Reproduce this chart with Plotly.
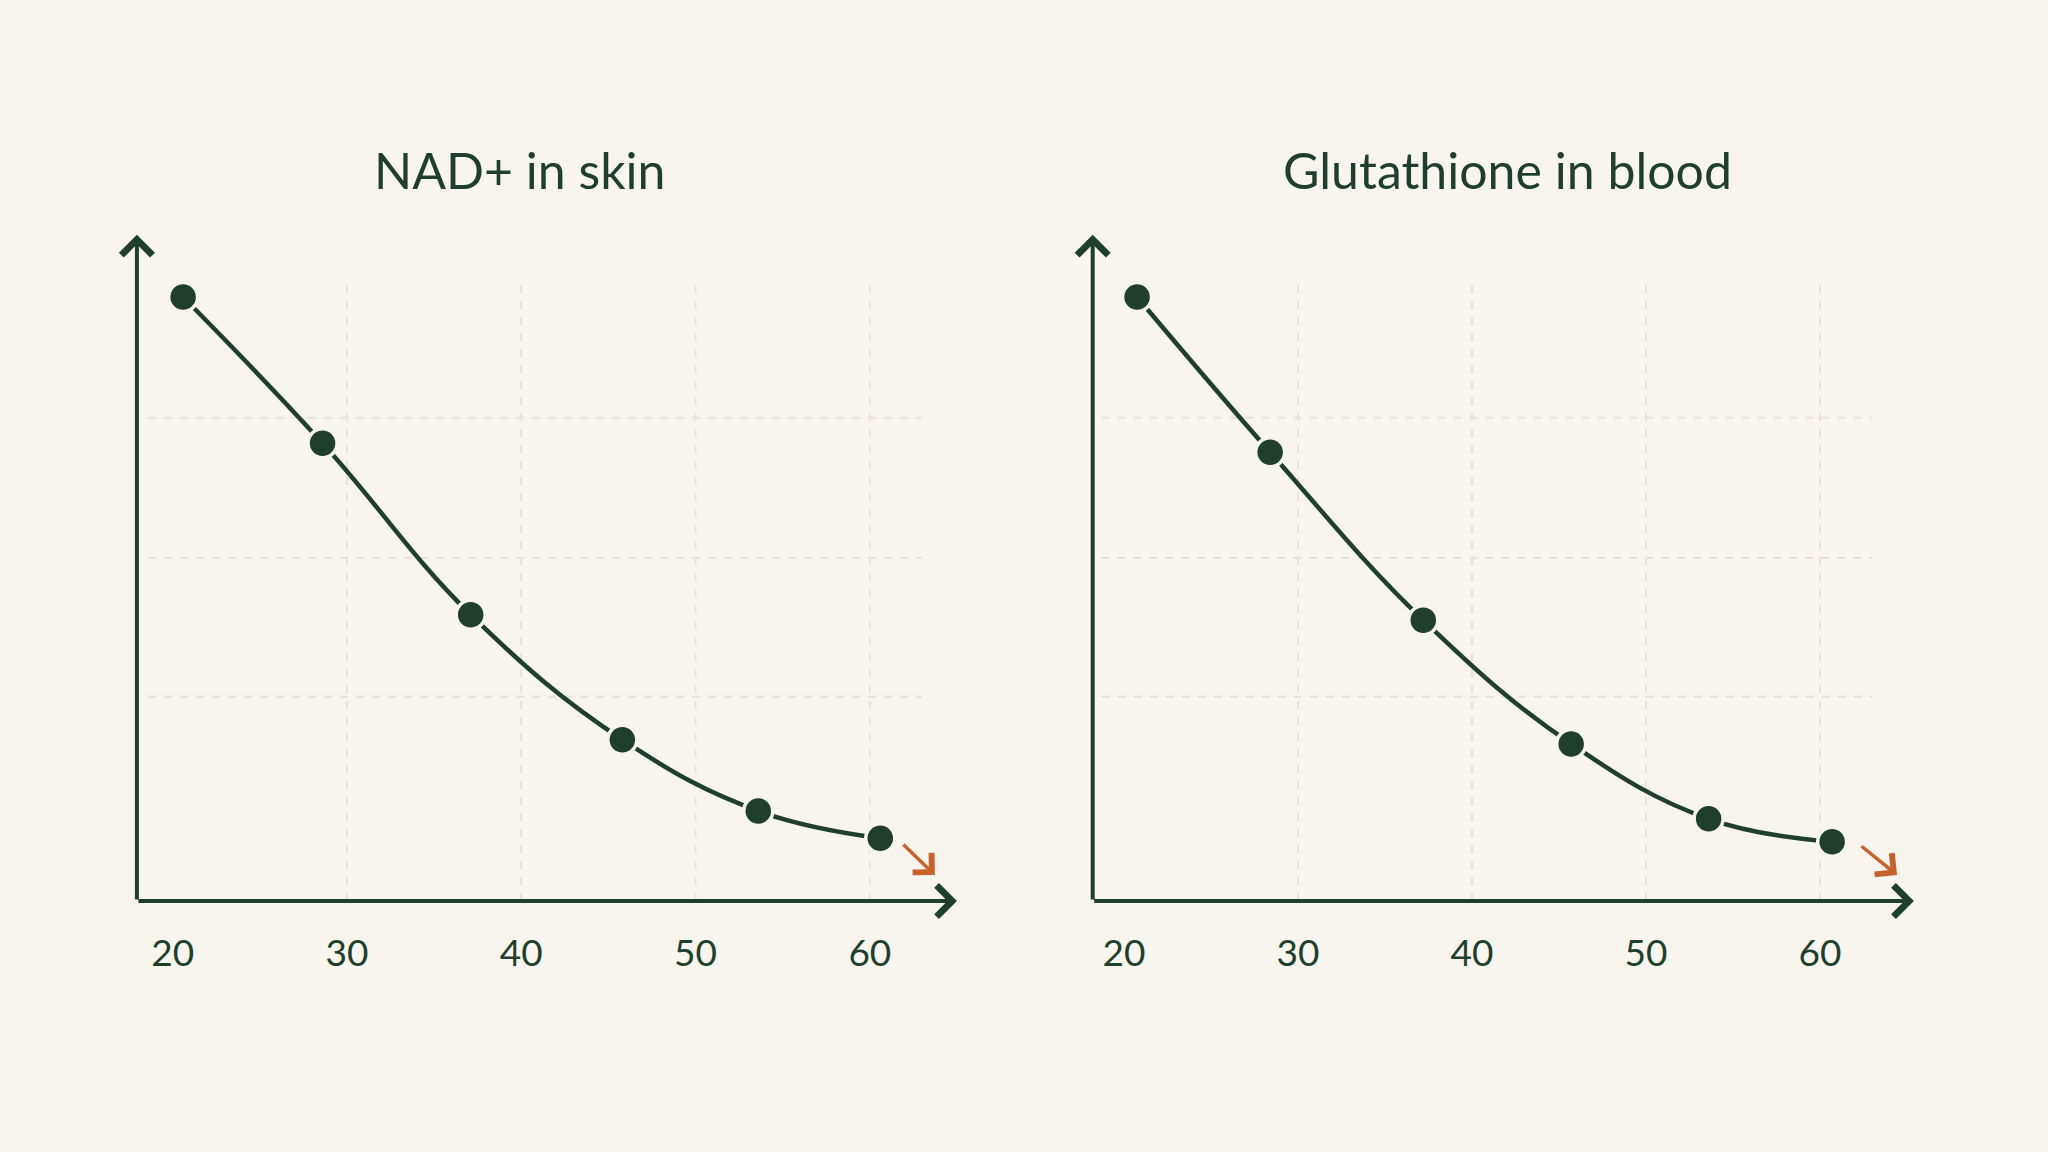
import plotly.graph_objects as go

# ---- data ----
titles = ["NAD+ in skin", "Glutathione in blood"]
ages_nad = [20.6, 28.6, 37.1, 45.8, 53.6, 60.6]
nad_skin = [100, 75.8, 47.4, 26.7, 14.9, 10.4]
ages_gsh = [20.75, 28.4, 37.2, 45.7, 53.6, 60.7]
gsh_blood = [100, 74.3, 46.5, 26.0, 13.6, 9.8]
tick_ages = [20, 30, 40, 50, 60]
tick_labels = ["20", "30", "40", "50", "60"]
grid_ages = [30, 40, 50, 60]
grid_levels = [33.8, 56.8, 80.0]

BG = "#f8f5ef"
INK = "#1f3f2c"
GRID = "#e6e2da"
ORANGE = "#c8622c"
FONT = "Lato, 'Noto Sans', sans-serif"

W, H = 2048, 1152

panels = [
    dict(x=ages_nad, y=nad_skin, title=titles[0], title_x=520,
         dom=(120, 980), xr=(16.98, 66.32), x_start=17.95, x_tip=65.0,
         grid_x=(18.6, 63.0), trend_tip=(63.73, 4.3), trend_off=(-33, -32)),
    dict(x=ages_gsh, y=gsh_blood, title=titles[1], title_x=1507,
         dom=(1076, 1936), xr=(17.24, 66.67), x_start=18.2, x_tip=65.4,
         grid_x=(18.7, 63.0), trend_tip=(64.43, 4.3), trend_off=(-37, -30)),
]
y_range = (-2.32, 112.75)
y_dom_px = (220, 915)
y_tip = 110.3
grid_top = 102.8

fig = go.Figure()
shapes = []
annotations = []

for i, p in enumerate(panels):
    sfx = "" if i == 0 else str(i + 1)
    xref, yref = "x" + sfx, "y" + sfx
    fig.add_trace(go.Scatter(
        x=p["x"], y=p["y"], mode="lines+markers",
        line=dict(color=INK, width=4.5, shape="spline", smoothing=1.15),
        marker=dict(size=29, color=INK, line=dict(color=BG, width=3.5)),
        xaxis=xref, yaxis=yref, showlegend=False, hoverinfo="skip",
    ))
    axis_key = "xaxis" + sfx
    yaxis_key = "yaxis" + sfx
    fig.layout[axis_key] = dict(
        domain=[p["dom"][0] / W, p["dom"][1] / W], range=list(p["xr"]),
        showgrid=False, zeroline=False, showline=False,
        tickmode="array", tickvals=tick_ages, ticktext=tick_labels,
        ticks="", ticklabelstandoff=13,
        tickfont=dict(family=FONT, size=37, color=INK),
        anchor=yref, fixedrange=True,
    )
    fig.layout[yaxis_key] = dict(
        domain=[1 - y_dom_px[1] / H, 1 - y_dom_px[0] / H], range=list(y_range),
        showgrid=False, zeroline=False, showline=False, showticklabels=False,
        anchor=xref, fixedrange=True,
    )
    # dashed grid
    for g in grid_ages:
        shapes.append(dict(type="line", xref=xref, yref=yref, x0=g, x1=g,
                           y0=0, y1=grid_top, layer="below",
                           line=dict(color=GRID, width=2, dash="8px,8px")))
    for g in grid_levels:
        shapes.append(dict(type="line", xref=xref, yref=yref,
                           x0=p["grid_x"][0], x1=p["grid_x"][1], y0=g, y1=g,
                           layer="below",
                           line=dict(color=GRID, width=2, dash="8px,8px")))
    # axes with arrowheads
    annotations.append(dict(xref=xref, yref=yref, axref=xref, ayref=yref,
                            x=p["x_tip"], y=0, ax=p["x_start"], ay=0, text="",
                            showarrow=True, arrowhead=4, arrowsize=1.5,
                            arrowwidth=4, arrowcolor=INK))
    annotations.append(dict(xref=xref, yref=yref, axref=xref, ayref=yref,
                            x=p["x_start"], y=y_tip, ax=p["x_start"], ay=0, text="",
                            showarrow=True, arrowhead=4, arrowsize=1.5,
                            arrowwidth=4, arrowcolor=INK))
    # orange trend arrow
    annotations.append(dict(xref=xref, yref=yref, x=p["trend_tip"][0], y=p["trend_tip"][1],
                            ax=p["trend_off"][0], ay=p["trend_off"][1], text="",
                            showarrow=True, arrowhead=4, arrowsize=1.5,
                            arrowwidth=3.5, arrowcolor=ORANGE))
    # title
    annotations.append(dict(xref="paper", yref="paper", x=p["title_x"] / W,
                            y=1 - 170 / H, xanchor="center", yanchor="middle",
                            text=p["title"], showarrow=False,
                            font=dict(family=FONT, size=50, color=INK)))

fig.update_layout(
    width=W, height=H, margin=dict(l=0, r=0, t=0, b=0),
    paper_bgcolor=BG, plot_bgcolor=BG,
    shapes=shapes, annotations=annotations,
)

fig.write_html("out.html")
